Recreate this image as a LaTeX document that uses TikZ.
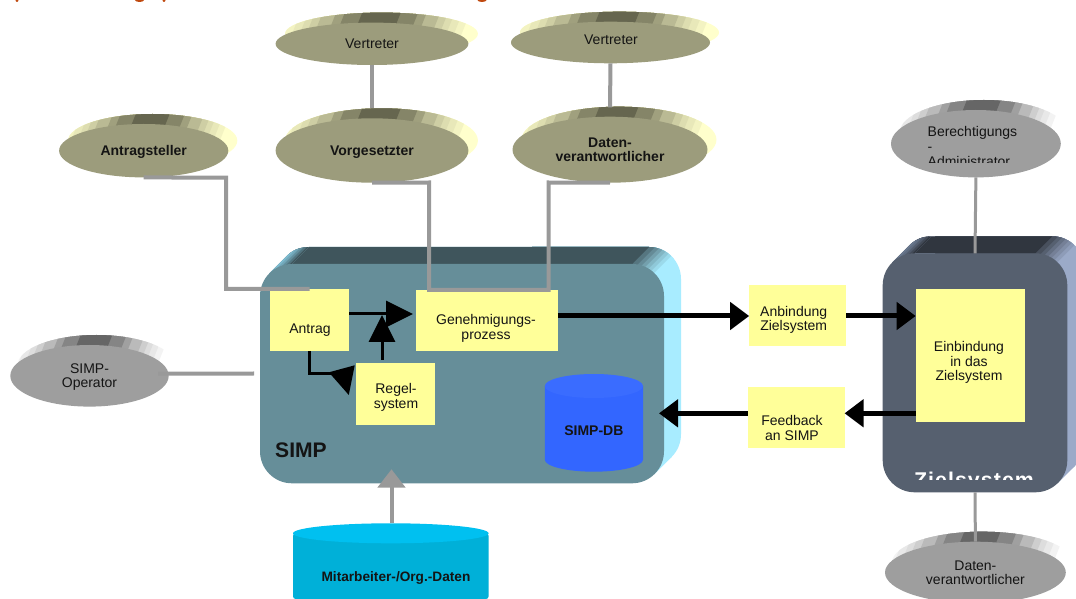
\documentclass[tikz,border=0pt]{standalone}
\usepackage{fontspec}
\setmainfont{Liberation Sans}
\usetikzlibrary{shapes.geometric,arrows.meta}
\def\px{0.75pt}
\definecolor{kL}{HTML}{FFFFCC}\definecolor{kD}{HTML}{66664F}\definecolor{kF}{HTML}{9C9C7C}
\definecolor{gL}{HTML}{FFFFFF}\definecolor{gD}{HTML}{666666}\definecolor{gF}{HTML}{9E9E9E}
\definecolor{conn}{HTML}{999999}\definecolor{yel}{HTML}{FFFF99}
\definecolor{simpF}{HTML}{668E99}\definecolor{simpS}{HTML}{A8ECFF}\definecolor{simpT}{HTML}{3F555C}\definecolor{simpW}{HTML}{7FBCD0}
\definecolor{zielF}{HTML}{56606F}\definecolor{zielS}{HTML}{9BAAC8}\definecolor{zielT}{HTML}{30363F}\definecolor{zielW}{HTML}{6B7A90}
\definecolor{dbB}{HTML}{3366FF}\definecolor{dbT}{HTML}{3A6CFF}
\definecolor{mbB}{HTML}{00B0D8}\definecolor{mbT}{HTML}{00C0F0}
\definecolor{titleC}{HTML}{C04A10}
\tikzset{
  txt/.style={font=\fontsize{10.5}{10.7}\selectfont,align=center,inner sep=0pt,text=black!92,text depth=0pt},
  btxt/.style={font=\fontsize{10.5}{10.7}\selectfont\bfseries,align=center,inner sep=0pt,text=black!92,text depth=0pt},
  ybox/.style={fill=yel,inner sep=0pt,outer sep=0pt},
  greyline/.style={draw=conn,line width=4*\px},
  greythin/.style={draw=conn,line width=3*\px},
  thin arrow/.style={draw=black,line width=3*\px},
  main arrow/.style={draw=black,line width=5*\px,-{Triangle[length=19*\px,width=27*\px]}},
  big head/.style={-{Triangle[length=27*\px,width=26*\px]}},
}
% name, cx, cy, rx, ry, dx, palette prefix, text style, text
\newcommand{\bevellipse}[9]{%
  \begin{scope}
    \clip (#2+#6,#3-10) ellipse [x radius=#4,y radius=#5];
    \pgfmathsetmacro{\bcx}{#2+#6}\pgfmathsetmacro{\bty}{#3-10-#5}\pgfmathsetmacro{\bby}{#3-10+#5}\pgfmathsetmacro{\bsh}{0.4*2*#5}
    \foreach \w/\p in {1.2/100,.92/92,.84/85,.76/78,.69/68,.61/55,.47/38,.38/20,.2/0}{
      \fill[#7L!\p!#7D] ({\bcx-\w*#4},\bty) -- ({\bcx+\w*#4},\bty) -- ({\bcx+\w*#4-\bsh},\bby) -- ({\bcx-\w*#4-\bsh},\bby) -- cycle;
    }
  \end{scope}
  \node[ellipse,fill=#7F,inner sep=0pt,outer sep=0pt,minimum width={2*#4*\px},minimum height={2*#5*\px},#8] (#1) at (#2,#3) {#9};
}
% x1,y1,x2,y2, front name, palette prefix
\newcommand{\extrudebox}[6]{%
  \pgfmathsetmacro{\ax}{#1+9.4}\pgfmathsetmacro{\ay}{#2+9.4}
  \pgfmathsetmacro{\cxl}{#1+32}\pgfmathsetmacro{\cxr}{#3-32}
  \fill[#6S,rounded corners=24pt] (#1+17,#2-17) rectangle (#3+17,#4-17);
  % lower right joint
  \fill[#6S] (#3-9.4,#4-9.4) -- (#3+7.6,#4-26.4) -- (#3,#4-60) -- (#3-40,#4-30) -- cycle;
  % upper right bands
  \begin{scope}
    \clip[rounded corners=24pt] (#1+17,#2-17) rectangle (#3+17,#4-17);
    \foreach \s/\p in {36/100,31/88,26/76,21/64,16/50,11/36,6/22}{
      \fill[#6S!\p!#6T] (\cxr+\s+30,#2-30) -- (\cxr+\s-100,#2+100) -- (\cxr-100,#2+100) -- (\cxr-100,#2-30) -- cycle;
    }
  \end{scope}
  % upper band
  \fill[#6T] (\cxl,#2) -- (\cxl+17,#2-17) -- (\cxr+17,#2-17) -- (\cxr,#2) -- cycle;
  % upper left joint
  \begin{scope}
    \clip (\ax,\ay) -- (\ax+17,\ay-17) .. controls (\ax+23,\ay-23) and (\ax+30,\ay-26.4) .. (\cxl+17,#2-17) -- (\cxl,#2) -- (\cxl,#2+30) -- cycle;
    \fill[#6T] (\ax-40,\ay-60) rectangle (\ax+80,\ay+60);
    \foreach \s/\p in {11/30,8/55,5/80,2/100}{
      \fill[#6W!\p!#6T] (\ax+\s-60,\ay+60) -- (\ax+\s+40,\ay-40) -- (\ax-60,\ay-40) -- cycle;
    }
  \end{scope}
  \pgfmathsetmacro{\fcx}{(#1+#3)/2}\pgfmathsetmacro{\fcy}{(#2+#4)/2}
  \node[fill=#6F,rounded corners=24pt,inner sep=0pt,outer sep=0pt,minimum width={(#3-#1)*\px},minimum height={(#4-#2)*\px}] (#5) at (\fcx,\fcy) {};
}
\begin{document}
\begin{tikzpicture}[x=0.75pt,y=-0.75pt]
\useasboundingbox (0,0) rectangle (1076,599);
\fill[white] (0,0) rectangle (1076,599);
\clip (0,0) rectangle (1076,599);

% remains of the cut-off title
\foreach \tx/\tw in {17/1.5,139.5/4.5,164/1.5,482/4.5}{\fill[titleC] (\tx,0) ellipse [x radius=\tw,y radius=2];}

% boxes
\extrudebox{260}{264}{664}{483.3}{SIMPbox}{simp}
\extrudebox{882.7}{253.3}{1067.3}{492.3}{ZIELbox}{ziel}

% ellipses
\bevellipse{VertA}{372}{43.8}{96.4}{21.2}{9.5}{k}{txt}{Vertreter}
\bevellipse{VertB}{610.5}{42.5}{99.5}{20.8}{9}{k}{txt}{}
\node[txt] (VertBT) at (611,40) {Vertreter};
\bevellipse{AntSt}{143.7}{150.7}{84.6}{26.7}{9}{k}{btxt}{Antragsteller}
\bevellipse{Vorg}{372}{150.5}{96.4}{32.2}{9.5}{k}{btxt}{Vorgesetzter}
\bevellipse{DatV}{610}{149.7}{97.5}{33}{9}{k}{btxt}{Daten-\\verantwortlicher}
\bevellipse{Ber}{975.9}{143.7}{84.9}{33.7}{8}{g}{txt}{}
\bevellipse{Oper}{89.5}{375.8}{79.2}{30.8}{7}{g}{txt}{SIMP-\\Operator}
\bevellipse{DatG}{975.4}{572.5}{90.4}{30.8}{7}{g}{txt}{Daten-\\verantwortlicher}

\begin{scope}
  \clip (880,100) rectangle (1070,162.5);
  \node[txt,text depth=,align=left,anchor=north west] (BerT) at (927.4,126.5) {Berechtigungs\\[0.4pt]-\\[0.4pt]Administrator};
\end{scope}

% cylinders
\fill[dbB] (544.8,386) -- (544.8,459.7) arc[start angle=180,end angle=0,x radius=49.1,y radius=12] -- (643,386) -- cycle;
\fill[dbT] (593.9,386) ellipse [x radius=49.1,y radius=12];
\node[btxt] (DBT) at (593.9,431) {SIMP-DB};
\fill[mbB,rounded corners=2pt] (293,533.3) rectangle (488.6,599);
\fill[mbT] (390.8,533.3) ellipse [x radius=97.8,y radius=10];
\node[btxt,font=\fontsize{10.25}{10.7}\selectfont\bfseries] (MitT) at (396,577) {Mitarbeiter-/Org.-Daten};
\coordinate (MitTop) at (391.5,523.3);
\coordinate (SimpIn) at (391.5,469.3);

% yellow boxes
\node[ybox,minimum width=79*\px,minimum height=62*\px] (Antrag) at (309.5,320) {};
\node[ybox,minimum width=141.8*\px,minimum height=61*\px] (Gen) at (486.9,320.5) {};
\node[ybox,minimum width=79.6*\px,minimum height=62*\px] (Regel) at (395.5,394) {};
\node[ybox,minimum width=97.1*\px,minimum height=61.3*\px] (Anb) at (797.7,315.7) {};
\node[ybox,minimum width=96.7*\px,minimum height=60.7*\px] (Feed) at (796.2,417.7) {};
\node[ybox,minimum width=109.3*\px,minimum height=132.7*\px] (Einb) at (970.3,355.4) {};

\node[txt] (AntragT) at (310,329) {Antrag};
\node[txt] (GenT) at (486,327) {Genehmigungs-\\prozess};
\node[txt] (RegelT) at (396,396) {Regel-\\system};
\node[txt] (AnbT) at (793.7,318.5) {Anbindung\\Zielsystem};
\node[txt] (FeedT) at (792,428) {Feedback\\an SIMP};
\node[txt] (EinbT) at (969,361) {Einbindung\\in das\\Zielsystem};

\node[font=\fontsize{15.8}{16}\selectfont\bfseries,inner sep=0pt,text=black!92] (SimpT) at (301,450) {SIMP};
\begin{scope}
  \clip (900,460) rectangle (1050,479);
  \node[font=\fontsize{16}{16}\selectfont\bfseries\addfontfeature{LetterSpace=5},inner sep=0pt,text=white,anchor=base] (ZielT) at (974,487.5) {Zielsystem};
\end{scope}

% grey connectors
\coordinate (c1) at (226,177.7);
\coordinate (c2) at (429,182.5);
\coordinate (c3) at (548.5,182.5);
\draw[greyline] (AntSt.south) -- (c1) |- (Antrag.north);
\draw[greyline] (Vorg.south) -- (c2) |- (Gen.north);
\draw[greyline] (DatV.south) -- (c3) |- (Gen.north);
\draw[greyline] (VertA.south) -- ([yshift=7.5pt]Vorg.north);
\draw[greyline] (VertB.south) -- ([yshift=7pt]DatV.north);
\draw[greythin] (Ber.south) -- (ZIELbox.north);
\draw[greythin] (ZIELbox.south) -- (DatG.north);
\coordinate (OpIn) at (254,373.5);
\draw[draw=conn,line width=4*\px] ([xshift=-8pt,yshift=1.7pt]Oper.east) -- (OpIn);
\draw[greyline,-{Triangle[length=18.4*\px,width=27.4*\px]}] (MitTop) -- (SimpIn);

% black arrows inside SIMP
\coordinate (y314) at (0,314);
\coordinate (RegUp) at (382,360);
\coordinate (RegTip) at (382,315);
\draw[thin arrow,big head] (Antrag.east |- y314) -- (413,314);
\draw[thin arrow,big head] (RegUp) -- (RegTip);
\coordinate (a3) at (340,373.5);
\draw[thin arrow] (Antrag.south) |- (a3);
\fill[black] (354.7,365.3) -- (348.8,395) -- (328.9,372.3) -- cycle;

% main arrows
\coordinate (y316) at (0,316);
\coordinate (y413) at (0,413.3);
\coordinate (SimpOut) at (659,413.3);
\draw[main arrow] (Gen.east |- y316) -- (Anb.west |- y316);
\draw[main arrow] (Anb.east |- y316) -- (Einb.west |- y316);
\draw[main arrow] (Einb.west |- y413) -- (Feed.east |- y413);
\draw[main arrow] (Feed.west |- y413) -- (SimpOut);
\end{tikzpicture}
\end{document}
